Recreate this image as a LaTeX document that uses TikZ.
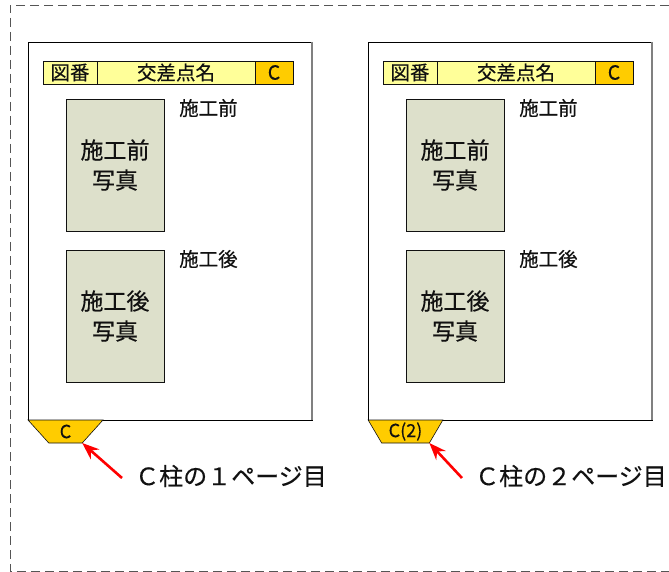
\documentclass[tikz,border=0pt]{standalone}
\usepackage{fontspec}
\setmainfont{Noto Sans CJK JP}[FakeBold=0.4]
\usetikzlibrary{arrows.meta, positioning, calc, shapes.geometric}
\definecolor{hdyellow}{HTML}{FFFF99}
\definecolor{tabgold}{HTML}{FFCC00}
\definecolor{photogray}{HTML}{DDE0CB}
\definecolor{framegray}{HTML}{555555}
\definecolor{inkblack}{HTML}{111111}

\begin{document}
\begin{tikzpicture}[x=1pt, y=-1pt, >={Stealth[length=17pt, width=13pt]},
  page/.style={draw=black, line width=0.8pt, fill=white, minimum width=284pt,
    minimum height=378pt, inner sep=0pt, outer sep=0pt},
  hdcell/.style={draw=inkblack, line width=0.6pt, fill=hdyellow, minimum height=23pt,
    inner sep=0pt, outer sep=0pt, text=inkblack, font=\fontsize{19.5}{19.5}\selectfont},
  photo/.style={draw=inkblack, line width=0.6pt, fill=photogray, minimum width=98pt,
    minimum height=132pt, inner sep=0pt, outer sep=0pt, align=center, text=inkblack,
    font=\fontsize{23}{30}\selectfont},
  caption/.style={inner sep=0pt, text=inkblack, font=\fontsize{19.5}{19.5}\selectfont},
  tab/.style={trapezium, shape border rotate=180, trapezium stretches=true,
    trapezium left angle=62.4, trapezium right angle=62.4, draw=inkblack,
    line width=0.6pt, fill=tabgold, minimum width=75pt, minimum height=23pt,
    inner sep=0pt, outer sep=0pt, text=inkblack, font=\fontsize{18}{18}\selectfont},
  note/.style={inner sep=0pt, text=inkblack, font=\fontsize{24}{24}\selectfont},
  pointer/.style={red, line width=2.6pt, ->}]

\useasboundingbox (0,0) rectangle (669,572);

% Outer frame
\draw[framegray, line width=0.8pt, dash pattern=on 9pt off 5pt]
  (669,5) -- (10,5) -- (10,571) -- (669,571);

\foreach \dx/\tabtext/\pg/\nm in {0/C/１/a, 340/C(2)/２/b} {
  % Page
  \node[page, anchor=north west] (page\nm) at (28+\dx,42) {};
  \draw[gray, line width=1.2pt] (page\nm.north east) -- (page\nm.south east);

  % Header row
  \node[hdcell, minimum width=54pt, anchor=north west] (num\nm)
    at ($(page\nm.north west)+(15,19)$) {図番};
  \node[hdcell, minimum width=158pt, right=0pt of num\nm] (name\nm) {交差点名};
  \node[hdcell, fill=tabgold, minimum width=38pt, right=0pt of name\nm] (col\nm) {C};

  % Photos
  \node[photo, anchor=north west] (pre\nm) at ($(page\nm.north west)+(38,57)$)
    {施工前\\写真};
  \node[photo, below=19pt of pre\nm] (post\nm) {施工後\\写真};
  \node[caption, anchor=west] (prelbl\nm) at ($(pre\nm.north east)+(15,9)$) {施工前};
  \node[caption, anchor=west] (postlbl\nm) at ($(post\nm.north east)+(15,9)$) {施工後};

  % Page tab
  \node[tab] (tab\nm) at ($(page\nm.south west)+(37.5,11.5)$) {\tabtext};

  % Note
  \node[note, anchor=west] (note\nm) at ($(page\nm.south west)+(107,56)$)
    {Ｃ柱の\pg ページ目};
  \draw[pointer] ($(note\nm.west)+(-13,2)$) -- (tab\nm.top left corner);
}

\end{tikzpicture}
\end{document}
